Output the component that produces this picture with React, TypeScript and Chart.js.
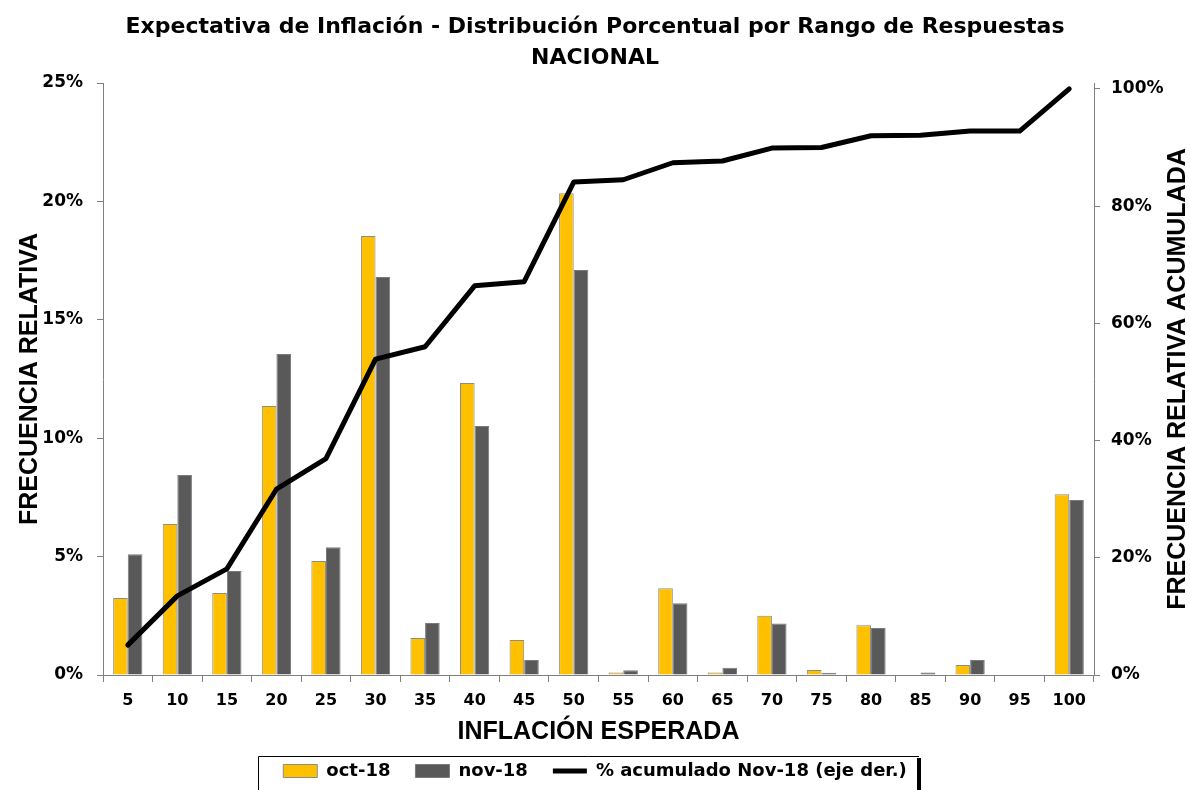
import React, { useEffect, useRef } from 'react';
import { Chart, registerables } from 'chart.js';

Chart.register(...registerables);

const chartTitle = ['Expectativa de Inflación - Distribución Porcentual por Rango de Respuestas', 'NACIONAL'];
const categories = ['5', '10', '15', '20', '25', '30', '35', '40', '45', '50', '55', '60', '65', '70', '75', '80', '85', '90', '95', '100'];
const oct18 = [3.25, 6.38, 3.46, 11.36, 4.81, 18.54, 1.56, 12.33, 1.48, 20.35, 0.11, 3.66, 0.11, 2.5, 0.21, 2.1, 0, 0.42, 0, 7.63];
const nov18 = [5.1, 8.45, 4.39, 13.56, 5.4, 16.81, 2.2, 10.52, 0.63, 17.1, 0.2, 3.03, 0.31, 2.18, 0.1, 1.98, 0.11, 0.63, 0, 7.39];
const cumulativeNov18 = [5.1, 13.5, 18.1, 31.7, 36.9, 53.9, 56.0, 66.4, 67.1, 84.1, 84.5, 87.4, 87.7, 89.9, 90.0, 92.0, 92.1, 92.8, 92.8, 100];
const leftTicks = [0, 5, 10, 15, 20, 25];
const rightTicks = [0, 20, 40, 60, 80, 100];
const seriesLabels = ['oct-18', 'nov-18', '% acumulado Nov-18 (eje der.)'];
const xTitle = 'INFLACIÓN ESPERADA';
const yTitle = 'FRECUENCIA RELATIVA';
const y1Title = 'FRECUENCIA RELATIVA ACUMULADA';

const TICK_FONT = "'DejaVu Sans', Verdana, sans-serif";
const AXIS_FONT = "'Liberation Sans', Arial, sans-serif";
const AXIS_GREY = '#808080';

const legendBoxPlugin = {
  id: 'legendBox',
  afterDraw(chart: any) {
    const lg = chart.legend;
    if (!lg || !lg.legendHitBoxes || !lg.legendHitBoxes.length) return;
    const hb = lg.legendHitBoxes;
    const first = hb[0];
    const last = hb[hb.length - 1];
    const left = Math.round(first.left - 25);
    const right = Math.round(last.left + last.width + 12);
    const top = 756;
    const bottom = 800;
    const ctx = chart.ctx;
    ctx.save();
    ctx.strokeStyle = '#000';
    ctx.lineWidth = 1;
    ctx.beginPath();
    ctx.moveTo(left + 0.5, bottom);
    ctx.lineTo(left + 0.5, top + 0.5);
    ctx.lineTo(right, top + 0.5);
    ctx.stroke();
    ctx.lineWidth = 4;
    ctx.beginPath();
    ctx.moveTo(right, top + 2);
    ctx.lineTo(right, bottom);
    ctx.stroke();
    ctx.restore();
  },
};

const rightTitlePlugin = {
  id: 'rightTitle',
  afterDraw(chart: any) {
    const ctx = chart.ctx;
    const area = chart.chartArea;
    ctx.save();
    ctx.translate(1178, (area.top + area.bottom) / 2);
    ctx.rotate(-Math.PI / 2);
    ctx.font = `bold 25px ${AXIS_FONT}`;
    ctx.fillStyle = '#000';
    ctx.textAlign = 'center';
    ctx.textBaseline = 'middle';
    ctx.fillText(y1Title, 0, 0);
    ctx.restore();
  },
};

export default function App() {
  const canvasRef = useRef<HTMLCanvasElement | null>(null);

  useEffect(() => {
    const canvas = canvasRef.current;
    if (!canvas) return;
    const chart = new Chart(canvas, {
      type: 'bar',
      data: {
        labels: categories,
        datasets: [
          {
            type: 'bar',
            label: seriesLabels[0],
            data: oct18,
            backgroundColor: '#FFC000',
            borderColor: '#8c8c8c',
            borderWidth: 1,
            yAxisID: 'y',
            order: 1,
            categoryPercentage: 0.59,
            barPercentage: 1,
            pointStyle: 'rect',
          },
          {
            type: 'bar',
            label: seriesLabels[1],
            data: nov18,
            backgroundColor: '#595959',
            borderColor: '#7a7a7a',
            borderWidth: 1,
            yAxisID: 'y',
            order: 2,
            categoryPercentage: 0.59,
            barPercentage: 1,
            pointStyle: 'rect',
          },
          {
            type: 'line',
            label: seriesLabels[2],
            data: cumulativeNov18,
            borderColor: '#000',
            backgroundColor: '#000',
            borderWidth: 5,
            pointRadius: 0,
            tension: 0,
            borderJoinStyle: 'round',
            borderCapStyle: 'round',
            yAxisID: 'y1',
            order: 0,
            pointStyle: 'line',
          } as any,
        ],
      },
      options: {
        responsive: false,
        animation: false,
        devicePixelRatio: 1,
        layout: { padding: 0 },
        plugins: {
          title: {
            display: true,
            text: chartTitle,
            color: '#000',
            font: { family: TICK_FONT, size: 22, weight: 'bold', lineHeight: 1.41 },
            padding: { top: 12, bottom: 9 },
          },
          legend: {
            display: true,
            position: 'bottom',
            labels: {
              color: '#000',
              font: { family: TICK_FONT, size: 18, weight: 'bold' },
              usePointStyle: true,
              pointStyleWidth: 34,
              boxHeight: 13,
              padding: 25,
              sort: (a: any, b: any) => a.datasetIndex - b.datasetIndex,
            },
          },
          tooltip: { enabled: false },
        },
        scales: {
          x: {
            type: 'category',
            offset: true,
            grid: {
              display: true,
              offset: true,
              drawOnChartArea: false,
              drawTicks: true,
              tickLength: 7,
              color: AXIS_GREY,
            },
            border: { display: true, color: AXIS_GREY, width: 1 },
            ticks: {
              color: '#000',
              font: { family: TICK_FONT, size: 16, weight: 'bold' },
              padding: 9,
              maxRotation: 0,
              autoSkip: false,
            },
            title: {
              display: true,
              text: xTitle,
              color: '#000',
              font: { family: AXIS_FONT, size: 25, weight: 'bold', lineHeight: 1.2 },
              padding: { top: 0, bottom: -10 },
            },
            afterFit: (scale: any) => {
              scale.height = 62;
            },
          },
          y: {
            type: 'linear',
            position: 'left',
            min: 0,
            max: 25,
            afterBuildTicks: (scale: any) => {
              scale.ticks = leftTicks.map((v) => ({ value: v }));
            },
            grid: {
              display: true,
              drawOnChartArea: false,
              drawTicks: true,
              tickLength: 6,
              color: AXIS_GREY,
            },
            border: { display: true, color: AXIS_GREY, width: 1 },
            ticks: {
              color: '#000',
              font: { family: TICK_FONT, size: 17, weight: 'bold' },
              padding: 14,
              callback: (v: any) => `${v}%`,
            },
            title: {
              display: true,
              text: yTitle,
              color: '#000',
              font: { family: AXIS_FONT, size: 25, weight: 'bold', lineHeight: 1.2 },
              padding: { top: 15, bottom: 0 },
            },
            afterFit: (scale: any) => {
              scale.width = 103;
            },
          },
          y1: {
            type: 'linear',
            position: 'right',
            min: 0,
            max: 101,
            afterBuildTicks: (scale: any) => {
              scale.ticks = rightTicks.map((v) => ({ value: v }));
            },
            grid: {
              display: true,
              drawOnChartArea: false,
              drawTicks: true,
              tickLength: 6,
              color: AXIS_GREY,
            },
            border: { display: true, color: AXIS_GREY, width: 1 },
            ticks: {
              color: '#000',
              font: { family: TICK_FONT, size: 17, weight: 'bold' },
              padding: 11,
              callback: (v: any) => `${v}%`,
            },
            afterFit: (scale: any) => {
              scale.width = 96;
            },
          },
        },
      } as any,
      plugins: [legendBoxPlugin, rightTitlePlugin],
    });
    return () => chart.destroy();
  }, []);

  return (
    <div style={{ position: 'fixed', left: 0, top: 0, width: 1190, height: 790, background: '#fff' }}>
      <canvas ref={canvasRef} width={1190} height={790} style={{ width: 1190, height: 790, display: 'block' }} />
    </div>
  );
}
